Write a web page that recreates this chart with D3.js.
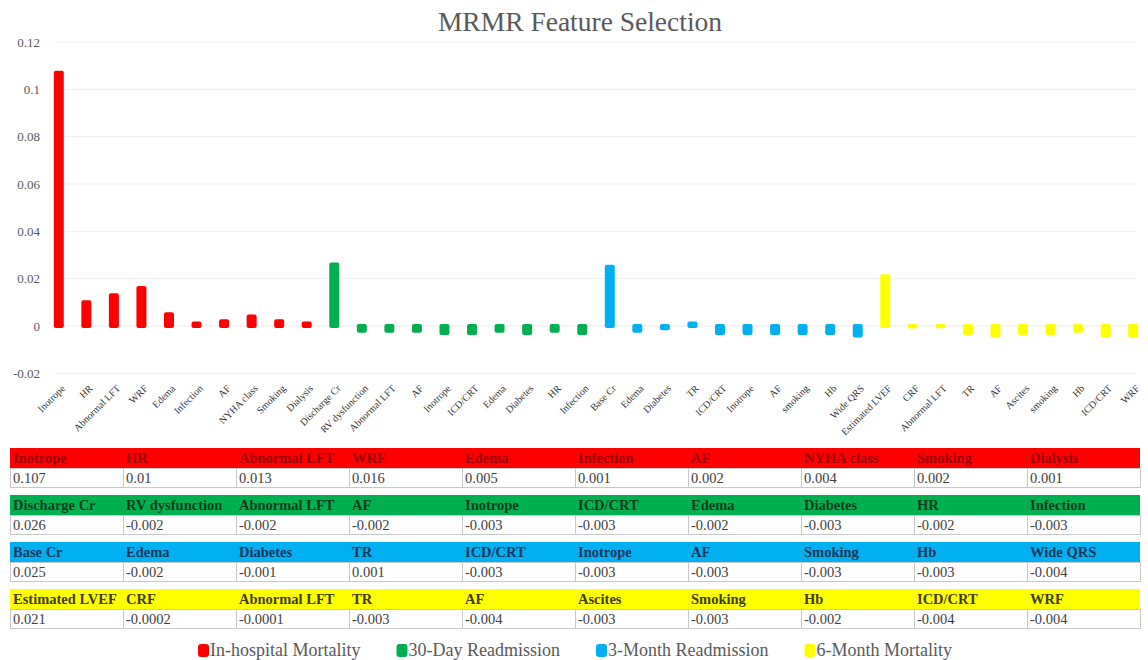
<!DOCTYPE html>
<meta charset="utf-8">
<script src="https://d3js.org/d3.v7.min.js"></script>
<style>
    body { margin: 0; background: #fff; }
    text { font-family: "Liberation Serif", "Times New Roman", serif; }
</style>
<body>
    <div id="data_vis"></div>
</body>
<script>
    // outcome groups and their colours
    const groups = ["In-hospital Mortality", "30-Day Readmission", "3-Month Readmission", "6-Month Mortality"];
    const groupColors = ["#ff0000", "#00b050", "#00b0f0", "#ffff00"];
    const headerTextColors = ["#9c0006", "#0b3d1c", "#17365d", "#3f3d00"];

    // features per group (table names) and MRMR scores
    const inHospitalFeatures = ["Inotrope", "HR", "Abnormal LFT", "WRF", "Edema", "Infection", "AF", "NYHA class", "Smoking", "Dialysis"];
    const inHospitalValues = [0.107, 0.01, 0.013, 0.016, 0.005, 0.001, 0.002, 0.004, 0.002, 0.001];

    const readmit30Features = ["Discharge Cr", "RV dysfunction", "Abnormal LFT", "AF", "Inotrope", "ICD/CRT", "Edema", "Diabetes", "HR", "Infection"];
    const readmit30Values = [0.026, -0.002, -0.002, -0.002, -0.003, -0.003, -0.002, -0.003, -0.002, -0.003];

    const readmit3mFeatures = ["Base Cr", "Edema", "Diabetes", "TR", "ICD/CRT", "Inotrope", "AF", "Smoking", "Hb", "Wide QRS"];
    const readmit3mValues = [0.025, -0.002, -0.001, 0.001, -0.003, -0.003, -0.003, -0.003, -0.003, -0.004];

    const mort6mFeatures = ["Estimated LVEF", "CRF", "Abnormal LFT", "TR", "AF", "Ascites", "Smoking", "Hb", "ICD/CRT", "WRF"];
    const mort6mValues = [0.021, -0.0002, -0.0001, -0.003, -0.004, -0.003, -0.003, -0.002, -0.004, -0.004];

    // x axis labels as written under the bars
    const axisLabels = [
        "Inotrope", "HR", "Abnormal LFT", "WRF", "Edema", "Infection", "AF", "NYHA class", "Smoking", "Dialysis",
        "Discharge Cr", "RV dysfunction", "Abnormal LFT", "AF", "Inotrope", "ICD/CRT", "Edema", "Diabetes", "HR", "Infection",
        "Base Cr", "Edema", "Diabetes", "TR", "ICD/CRT", "Inotrope", "AF", "smoking", "Hb", "Wide QRS",
        "Estimated LVEF", "CRF", "Abnormal LFT", "TR", "AF", "Ascites", "smoking", "Hb", "ICD/CRT", "WRF"
    ];
    const yTicks = [-0.02, 0, 0.02, 0.04, 0.06, 0.08, 0.1, 0.12];

    const featureLists = [inHospitalFeatures, readmit30Features, readmit3mFeatures, mort6mFeatures];
    const valueLists = [inHospitalValues, readmit30Values, readmit3mValues, mort6mValues];

    // flatten into one row per bar
    const bars = [];
    valueLists.forEach((vals, g) => {
        vals.forEach((v, i) => {
            bars.push({ idx: bars.length, group: g, value: v, label: axisLabels[bars.length] });
        });
    });

    const width = 1148, height = 660;

    const svg = d3.select("#data_vis")
        .append("svg")
        .attr("width", width)
        .attr("height", height);

    // title
    svg.append("text")
        .attr("x", 580)
        .attr("y", 31)
        .attr("text-anchor", "middle")
        .style("font-size", "27.5px")
        .style("fill", "#595959")
        .text("MRMR Feature Selection");

    // scales
    const x = d3.scaleBand()
        .domain(bars.map(d => d.idx))
        .range([45, 1147]);

    const y = d3.scaleLinear()
        .domain([-0.02, 0.12])
        .range([373.3, 42]);

    // gridlines
    svg.append("g")
        .selectAll("line")
        .data(yTicks)
        .join("line")
        .attr("x1", 55)
        .attr("x2", 1136)
        .attr("y1", d => y(d))
        .attr("y2", d => y(d))
        .attr("stroke", "#ededed")
        .attr("stroke-width", 1);

    // y axis
    const yAxis = svg.append("g")
        .attr("transform", "translate(40,0)")
        .call(d3.axisLeft(y).tickValues(yTicks).tickSize(0).tickPadding(0)
            .tickFormat(d => d === 0 ? "0" : String(+d.toFixed(2))));
    yAxis.select(".domain").remove();
    yAxis.selectAll("text")
        .style("font-family", "Liberation Serif, serif")
        .style("font-size", "13px")
        .style("fill", "#595959");

    // bars
    svg.append("g")
        .selectAll("rect")
        .data(bars)
        .join("rect")
        .attr("x", d => x(d.idx) + x.bandwidth() / 2 - 3)
        .attr("width", 6)
        .attr("y", d => y(Math.max(d.value, 0)))
        .attr("height", d => Math.abs(y(d.value) - y(0)))
        .attr("fill", d => groupColors[d.group])
        .attr("stroke", d => groupColors[d.group])
        .attr("stroke-width", 4)
        .attr("stroke-linejoin", "round");

    // rotated x labels
    svg.append("g")
        .selectAll("text")
        .data(bars)
        .join("text")
        .attr("transform", d => `translate(${x(d.idx) + x.bandwidth() / 2 + 7},389) rotate(-45)`)
        .attr("text-anchor", "end")
        .style("font-size", "10px")
        .style("fill", "#333")
        .text(d => d.label);

    // table of scores
    const colX = 10, colW = 113;
    const tableTop = 448, headerH = 20, rowH = 20, blockGap = 47;

    const blocks = svg.append("g")
        .selectAll("g")
        .data(featureLists)
        .join("g")
        .attr("transform", (d, g) => `translate(0,${tableTop + g * blockGap})`);

    blocks.append("rect")
        .attr("x", colX)
        .attr("width", colW * 10)
        .attr("height", headerH)
        .attr("fill", (d, g) => groupColors[g]);

    blocks.each(function(feats, g) {
        const blk = d3.select(this);
        blk.selectAll(".hdr")
            .data(feats)
            .join("text")
            .attr("class", "hdr")
            .attr("x", (d, i) => colX + i * colW + 3)
            .attr("y", 15)
            .style("font-size", "14.5px")
            .style("font-weight", "bold")
            .style("fill", headerTextColors[g])
            .text(d => d);

        blk.selectAll(".cell")
            .data(valueLists[g])
            .join("rect")
            .attr("class", "cell")
            .attr("x", (d, i) => colX + i * colW + 0.5)
            .attr("y", headerH + 0.5)
            .attr("width", colW)
            .attr("height", rowH - 1)
            .attr("fill", "#fff")
            .attr("stroke", "#c8c8c8");

        blk.selectAll(".val")
            .data(valueLists[g])
            .join("text")
            .attr("class", "val")
            .attr("x", (d, i) => colX + i * colW + 3)
            .attr("y", headerH + 15)
            .style("font-size", "14.5px")
            .style("fill", "#404040")
            .text(d => String(d));
    });

    // legend
    const legend = svg.append("g").attr("transform", "translate(0,650)");
    let lx = 198;
    groups.forEach((name, g) => {
        legend.append("rect")
            .attr("x", lx)
            .attr("y", -6)
            .attr("width", 11)
            .attr("height", 13)
            .attr("rx", 3)
            .attr("fill", groupColors[g]);
        const t = legend.append("text")
            .attr("x", lx + 12)
            .attr("y", 6)
            .style("font-size", "18px")
            .style("fill", "#595959")
            .text(name);
        lx += 12 + t.node().getComputedTextLength() + 36;
    });
</script>
